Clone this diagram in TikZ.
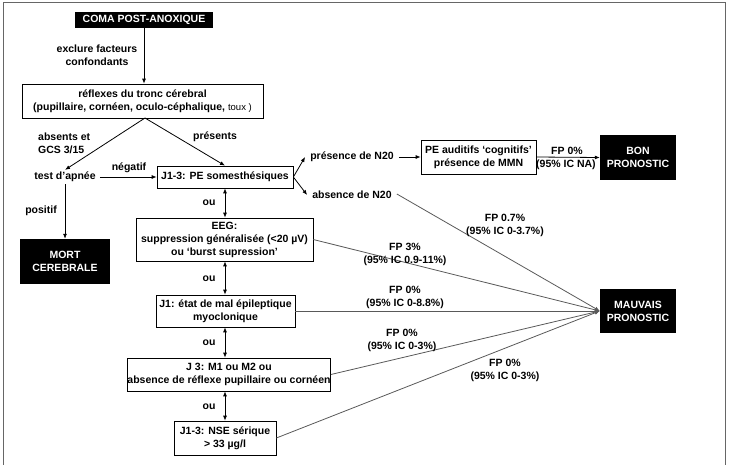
\documentclass[tikz,border=0pt]{standalone}
\usepackage{fontspec}
\setmainfont{Liberation Sans}
\usetikzlibrary{arrows.meta}
\begin{document}
\begin{tikzpicture}[x=1pt,y=-1pt,
  every node/.style={font=\fontsize{10.5}{13}\selectfont\bfseries, inner sep=0pt, align=center},
  wbox/.style={draw, line width=0.7pt, fill=white, minimum width=#1},
  bbox/.style={fill=black, text=white, minimum width=#1},
  lbl/.style={inner sep=2pt},
  arr/.style={line width=0.8pt, -{Latex[length=5pt,width=4pt]}},
  darr/.style={line width=0.8pt, {Latex[length=5pt,width=4pt]}-{Latex[length=5pt,width=4pt]}},
  gl/.style={line width=0.8pt, draw=black!65, -{Latex[length=5pt,width=4pt]}}
]
\useasboundingbox (0,0) rectangle (729,464);
\draw[line width=1pt, black!60] (3,470) -- (3,2.5) -- (725,2.5) -- (725,470);

\node[bbox=138, minimum height=16] (coma) at (144,20) {COMA POST-ANOXIQUE};
\node[lbl] (excl) at (97,55) {exclure facteurs\\confondants};
\node[wbox=241, minimum height=34] (refl) at (142.5,101) {réflexes du tronc cérebral\\(pupillaire, cornéen, oculo-céphalique, {\mdseries\fontsize{9.5}{13}\selectfont toux )}};
\node[lbl, anchor=west, align=left] (abs) at (36,143) {absents et\\GCS 3/15};
\node[lbl] (pres) at (215,137) {présents};
\node[lbl] (test) at (65,177) {test d’apnée};
\node[wbox=136, minimum height=22] (pe) at (225,177) {J1-3: PE somesthésiques};
\node[lbl] (neg) at (129,168) {négatif};
\node[lbl] (pos) at (41,211) {positif};
\node[bbox=90, minimum height=45] (mort) at (65,261.5) {MORT\\CEREBRALE};
\node[lbl] (presn) at (352,157) {présence de N20};
\node[lbl] (absn) at (352,195) {absence de N20};
\node[wbox=115, minimum height=34] (aud) at (478.5,157) {PE auditifs ‘cognitifs’\\présence de MMN};
\node[bbox=76, minimum height=45] (bon) at (638,157.5) {BON\\PRONOSTIC};
\node[lbl] (fpa) at (567,151) {FP 0\%};
\node[lbl] (fpb) at (566,165) {(95\% IC NA)};
\node[wbox=177, minimum height=43] (eeg) at (224.5,239.5) {EEG:\\suppression généralisée (<20 µV)\\ou ‘burst supression’};
\node[wbox=139, minimum height=32] (j1) at (225.5,311) {J1: état de mal épileptique\\myoclonique};
\node[wbox=202, minimum height=33] (j3) at (229,374.5) {J 3: M1 ou M2 ou\\absence de réflexe pupillaire ou cornéen};
\node[wbox=102, minimum height=34] (nse) at (225,438) {J1-3: NSE sérique\\> 33 µg/l};
\node[bbox=76, minimum height=44] (mauv) at (638,311) {MAUVAIS\\PRONOSTIC};

\node[lbl] (ou1) at (209,203) {ou};
\node[lbl] (ou2) at (209,279) {ou};
\node[lbl] (ou3) at (209,343) {ou};
\node[lbl] (ou4) at (209,407) {ou};

\draw[arr] (coma) -- (refl.north -| coma);
\coordinate (rb) at (145,118);
\draw[arr] (rb) -- (test.north);
\draw[arr] (rb) -- (pe.north);
\draw[arr] ([xshift=2pt]test.east) -- (pe.west);
\draw[arr] (test.south) -- (mort.north);
\draw[arr] (pe.east) -- ([xshift=-3pt]presn.west);
\draw[arr] (pe.east) -- ([xshift=-3pt]absn.west);
\draw[arr] ([xshift=3pt]presn.east) -- (aud.west);
\draw[arr] (aud.east) -- (bon.west);

\draw[darr] (pe.south -| 225,0) -- (eeg.north -| 225,0);
\draw[darr] (eeg.south -| 225,0) -- (j1.north -| 225,0);
\draw[darr] (j1.south -| 225,0) -- (j3.north -| 225,0);
\draw[darr] (j3.south -| 225,0) -- (nse.north -| 225,0);

\draw[gl] ([xshift=3pt,yshift=1pt]absn.east) -- (mauv.west);
\draw[gl] (eeg.east) -- (mauv.west);
\draw[gl] (j1.east) -- (mauv.west);
\draw[gl] (j3.east) -- (mauv.west);
\draw[gl] (nse.east) -- (mauv.west);

\node[lbl] at (505,225) {FP 0.7\%\\(95\% IC 0-3.7\%)};
\node[lbl] at (405,254) {FP 3\%\\(95\% IC 0.9-11\%)};
\node[lbl] at (405,297) {FP 0\%\\(95\% IC 0-8.8\%)};
\node[lbl] at (402,340) {FP 0\%\\(95\% IC 0-3\%)};
\node[lbl] at (505,370) {FP 0\%\\(95\% IC 0-3\%)};
\end{tikzpicture}
\end{document}
